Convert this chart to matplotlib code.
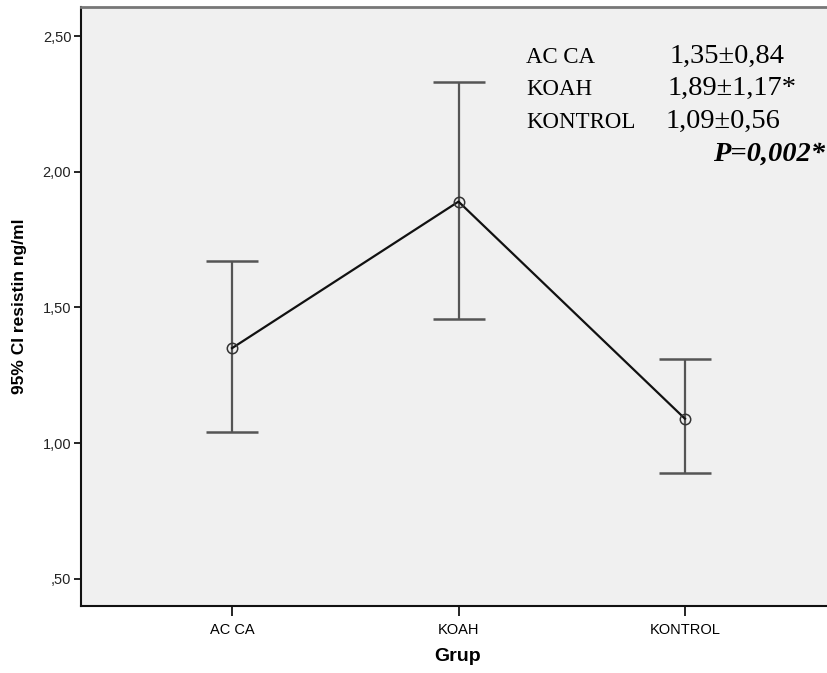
import matplotlib
matplotlib.use("Agg")
import matplotlib.pyplot as plt
import numpy as np

# Resistin means with 95% confidence intervals per group
groups = ["AC CA", "KOAH", "KONTROL"]
means = [1.35, 1.89, 1.09]
ci_low = [1.04, 1.457, 0.89]
ci_high = [1.67, 2.33, 1.31]

yticks = [0.5, 1.0, 1.5, 2.0, 2.5]
ytick_labels = [",50", "1,00", "1,50", "2,00", "2,50"]

summary_labels = ["AC CA", "KOAH", "KONTROL"]
summary_values = ["1,35\u00b10,84", "1,89\u00b11,17*", "1,09\u00b10,56"]
p_text = "P=0,002*"

W, H, DPI = 828, 673, 100
fig = plt.figure(figsize=(W / DPI, H / DPI), dpi=DPI)
fig.patch.set_facecolor("white")

left_px, right_px, top_px, bottom_px = 81, 836, 7, 606
ax = fig.add_axes([left_px / W, 1 - bottom_px / H,
                   (right_px - left_px) / W, (bottom_px - top_px) / H])
ax.set_facecolor("#f0f0f0")

x = np.arange(len(groups))
means_a = np.array(means)
yerr = np.vstack([means_a - np.array(ci_low), np.array(ci_high) - means_a])

ax.errorbar(x, means, yerr=yerr, fmt="none", ecolor="#555555",
            elinewidth=1.6, capsize=19, capthick=1.8, zorder=2)
ax.plot(x, means, color="#111111", lw=1.6, zorder=3)
ax.plot(x, means, linestyle="none", marker="o", markersize=7.5,
        markerfacecolor="none", markeredgecolor="#333333",
        markeredgewidth=1.1, zorder=4)

ax.set_xlim(-0.667, 2.667)
ax.set_ylim(0.40, 2.607)
ax.set_xticks(x)
ax.set_xticklabels(groups, fontsize=10.5, family="Liberation Sans")
ax.set_yticks(yticks)
ax.set_yticklabels(ytick_labels, fontsize=10.5, family="Liberation Sans",
                   color="#222222")
ax.tick_params(axis="y", direction="out", length=5, width=1.2, pad=2)
ax.tick_params(axis="x", direction="out", length=7, width=1.2, pad=5)

for side in ("left", "bottom"):
    ax.spines[side].set_color("#111111")
    ax.spines[side].set_linewidth(1.5)
ax.spines["top"].set_color("#777777")
ax.spines["top"].set_linewidth(2.0)
ax.spines["right"].set_visible(False)

ax.set_xlabel("Grup", fontsize=14, fontweight="bold", family="Liberation Sans")
ax.set_ylabel("95% CI resistin ng/ml", fontsize=12.5, fontweight="bold",
              family="Liberation Sans")
ax.xaxis.set_label_coords((458 - left_px) / (right_px - left_px),
                          -(648 - bottom_px) / (bottom_px - top_px))
ax.yaxis.set_label_coords(-(81 - 27) / (right_px - left_px), 0.5)

# Summary block in pixel positions of the figure
def fig_xy(px, py):
    return px / W, 1 - py / H

label_x = 526
value_x = [670, 668, 666]
baselines = [63, 95, 128]
for lab, val, vx, by in zip(summary_labels, summary_values, value_x, baselines):
    fx, fy = fig_xy(label_x, by)
    fig.text(fx, fy, lab, fontsize=16.5, family="Liberation Serif",
             va="baseline", ha="left")
    fx2, _ = fig_xy(vx, by)
    fig.text(fx2, fy, val, fontsize=20.5, family="Liberation Serif",
             va="baseline", ha="left")
px_, py_ = fig_xy(825, 161)
fig.text(px_, py_, p_text, fontsize=20.5, family="Liberation Serif",
         fontweight="bold", fontstyle="italic", va="baseline", ha="right")

fig.savefig("out.png", dpi=DPI)
